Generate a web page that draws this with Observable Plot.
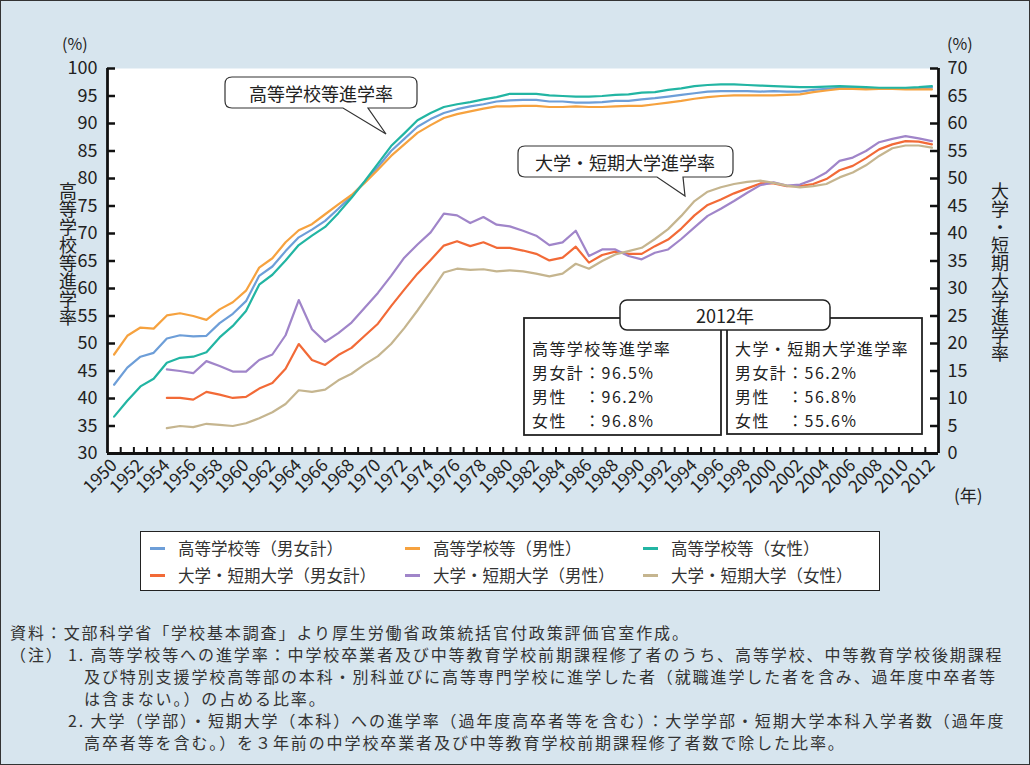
<!DOCTYPE html>
<html><head><meta charset="utf-8">
<script src="https://cdn.jsdelivr.net/npm/d3@7"></script>
<script src="https://cdn.jsdelivr.net/npm/@observablehq/plot@0.6"></script>
<style>
body{margin:0;background:#fff;}
#page{position:relative;width:1030px;height:765px;background:#d7e5ee;font-family:"Noto Sans CJK JP","Noto Sans",sans-serif;color:#222;overflow:hidden;}
#border{position:absolute;left:0;top:0;width:1030px;height:765px;box-sizing:border-box;border:1.5px solid #333;pointer-events:none;}
#chart{position:absolute;left:0;top:0;}
.abs{position:absolute;white-space:nowrap;}
.vt{position:absolute;writing-mode:vertical-rl;text-orientation:upright;font-size:18px;line-height:1;color:#222;}
#legend{position:absolute;left:140px;top:531px;width:740px;height:60px;box-sizing:border-box;background:#fff;border:1.5px solid #222;}
.li{position:absolute;font-size:16.5px;line-height:20px;color:#333;white-space:nowrap;}
.li span.m{display:inline-block;width:15px;height:2.5px;vertical-align:middle;margin-right:13px;position:relative;top:-2px;}
.note{position:absolute;font-size:16px;letter-spacing:1.9px;line-height:20px;color:#333;white-space:nowrap;}
</style></head>
<body><div id="page">
<div id="chart"></div>
<div class="abs" style="left:62px;top:31px;font-size:16px;">(%)</div>
<div class="abs" style="left:947px;top:31px;font-size:16px;">(%)</div>
<div class="abs" style="left:954px;top:482px;font-size:17px;">(年)</div>
<div class="vt" style="left:59px;top:182px;">高等学校等進学率</div>
<div class="vt" style="left:991px;top:182px;">大学・短期大学進学率</div>
<svg id="ann" width="1030" height="765" style="position:absolute;left:0;top:0;font-family:'Noto Sans CJK JP',sans-serif;">
  <path d="M232,77 H410 Q417,77 417,84 V101 Q417,108 410,108 H368 L386,134 L343,108 H232 Q225,108 225,101 V84 Q225,77 232,77 Z" fill="#fff" stroke="#333" stroke-width="1.2"/>
  <text x="321" y="93" text-anchor="middle" dominant-baseline="central" font-size="18" fill="#222">高等学校等進学率</text>
  <path d="M525,146 H726 Q733,146 733,153 V170 Q733,177 726,177 H683 L685,196 L657,177 H525 Q518,177 518,170 V153 Q518,146 525,146 Z" fill="#fff" stroke="#333" stroke-width="1.2"/>
  <text x="625" y="162" text-anchor="middle" dominant-baseline="central" font-size="18" fill="#222">大学・短期大学進学率</text>
  <rect x="524" y="318" width="197" height="117" fill="#fff" stroke="#222" stroke-width="1.8"/>
  <rect x="727" y="318" width="195" height="116" fill="#fff" stroke="#222" stroke-width="1.8"/>
  <rect x="620" y="300" width="210" height="30" rx="7" fill="#fff" stroke="#222" stroke-width="1.5"/>
  <text x="725" y="315" text-anchor="middle" dominant-baseline="central" font-size="18" fill="#222">2012年</text>
  <g font-size="16" letter-spacing="1.4" fill="#222" dominant-baseline="central">
    <text x="532" y="348">高等学校等進学率</text>
    <text x="532" y="372">男女計：96.5%</text>
    <text x="532" y="396">男性　：96.2%</text>
    <text x="532" y="420">女性　：96.8%</text>
    <text x="735" y="348">大学・短期大学進学率</text>
    <text x="735" y="372">男女計：56.2%</text>
    <text x="735" y="396">男性　：56.8%</text>
    <text x="735" y="420">女性　：55.6%</text>
  </g>
</svg>
<div id="legend"></div>
<div class="note" style="left:10px;top:622px;">資料：文部科学省「学校基本調査」より厚生労働省政策統括官付政策評価官室作成。</div>
<div class="note" style="left:10px;top:644px;">（注）</div>
<div class="note" style="left:68px;top:644px;">1. 高等学校等への進学率：中学校卒業者及び中等教育学校前期課程修了者のうち、高等学校、中等教育学校後期課程</div>
<div class="note" style="left:84px;top:666px;">及び特別支援学校高等部の本科・別科並びに高等専門学校に進学した者（就職進学した者を含み、過年度中卒者等</div>
<div class="note" style="left:84px;top:688px;">は含まない。）の占める比率。</div>
<div class="note" style="left:68px;top:710px;">2. 大学（学部）・短期大学（本科）への進学率（過年度高卒者等を含む）：大学学部・短期大学本科入学者数（過年度</div>
<div class="note" style="left:84px;top:732px;">高卒者等を含む。）を３年前の中学校卒業者及び中等教育学校前期課程修了者数で除した比率。</div>
<div id="border"></div>
</div>
<script>
// ---- data ----
const years = d3.range(1950, 2013);          // 1950..2012
const univYears = d3.range(1954, 2013);      // 1954..2012
const xTickYears = years.filter(y => y % 2 === 0);
const leftTicks = [30,35,40,45,50,55,60,65,70,75,80,85,90,95,100];
const rightTickLabels = [0,5,10,15,20,25,30,35,40,45,50,55,60,65,70];

const hsTotal = [42.5,45.6,47.6,48.3,50.9,51.5,51.3,51.4,53.7,55.4,57.7,62.3,64.0,66.8,69.3,70.7,72.3,74.5,76.8,79.4,82.1,85.0,87.2,89.4,90.8,91.9,92.6,93.1,93.5,94.0,94.2,94.3,94.3,94.0,94.0,93.8,93.8,93.9,94.1,94.1,94.4,94.6,94.9,95.2,95.5,95.8,95.9,95.9,95.9,95.8,95.9,95.8,95.8,96.1,96.3,96.5,96.5,96.4,96.4,96.3,96.3,96.4,96.5];
const hsMale = [48.0,51.4,52.9,52.7,55.1,55.5,55.0,54.3,56.2,57.5,59.6,63.8,65.5,68.4,70.6,71.7,73.5,75.3,77.0,79.2,81.6,84.1,86.2,88.3,89.7,91.0,91.7,92.2,92.7,93.1,93.1,93.2,93.2,93.0,93.0,93.1,93.0,93.0,93.1,93.2,93.2,93.5,93.8,94.1,94.5,94.8,95.0,95.1,95.1,95.1,95.1,95.2,95.3,95.7,96.0,96.3,96.3,96.2,96.3,96.3,96.2,96.2,96.2];
const hsFemale = [36.7,39.6,42.2,43.6,46.5,47.4,47.6,48.4,51.1,53.2,55.9,60.7,62.5,65.1,67.9,69.6,71.2,73.7,76.5,79.5,82.7,85.9,88.2,90.6,91.9,93.0,93.5,93.9,94.4,94.8,95.4,95.4,95.4,95.1,95.0,94.9,94.9,95.0,95.2,95.3,95.6,95.7,96.1,96.4,96.8,97.0,97.1,97.1,97.0,96.9,96.8,96.7,96.6,96.6,96.7,96.8,96.7,96.6,96.5,96.5,96.5,96.6,96.8];
const univTotal = [10.1,10.1,9.8,11.2,10.7,10.1,10.3,11.8,12.8,15.4,19.9,17.0,16.1,17.9,19.2,21.4,23.6,26.8,29.8,32.7,35.2,37.8,38.6,37.7,38.4,37.4,37.4,36.9,36.3,35.1,35.6,37.6,34.7,36.1,36.7,36.3,36.3,37.7,38.9,40.9,43.3,45.2,46.2,47.3,48.2,49.1,49.1,48.6,48.6,49.0,49.9,51.5,52.3,53.7,55.3,56.2,56.8,56.7,56.2];
const univMale = [15.3,15.0,14.6,16.8,15.9,14.9,14.9,17.0,18.0,21.5,27.9,22.6,20.3,21.9,23.8,26.5,29.2,32.3,35.6,38.0,40.2,43.6,43.3,41.9,43.0,41.6,41.3,40.5,39.6,37.9,38.4,40.5,35.9,37.1,37.1,35.9,35.3,36.5,37.1,39.0,41.1,43.2,44.5,45.9,47.4,48.8,49.3,48.7,48.9,49.8,51.1,53.2,53.8,55.0,56.6,57.2,57.7,57.3,56.8];
const univFemale = [4.6,5.0,4.8,5.4,5.2,5.0,5.5,6.4,7.5,9.0,11.5,11.2,11.6,13.3,14.5,16.2,17.7,19.9,22.8,26.0,29.4,32.9,33.6,33.4,33.5,33.1,33.3,33.1,32.7,32.2,32.7,34.5,33.6,35.0,36.2,36.8,37.4,39.0,40.8,43.2,45.9,47.6,48.4,49.0,49.4,49.6,49.2,48.7,48.4,48.6,49.0,50.2,51.1,52.4,54.1,55.5,56.0,56.0,55.6];

const seriesNames = ["高等学校等（男女計）","高等学校等（男性）","高等学校等（女性）","大学・短期大学（男女計）","大学・短期大学（男性）","大学・短期大学（女性）"];
const seriesColors = ["#6d9ed8","#f6a23f","#22b5a3","#f26a37","#a085c9","#c5b58f"];
const seriesValues = [hsTotal, hsMale, hsFemale, univTotal, univMale, univFemale];
const seriesYears = [years, years, years, univYears, univYears, univYears];
const rightAxisOffset = 30; // right axis 0..70 shares the left axis 30..100 span

// ---- table for Plot ----
const rows = [];
seriesValues.forEach((vals, s) => {
  const onRight = s >= 3;
  vals.forEach((v, i) => rows.push({
    year: seriesYears[s][i],
    value: onRight ? v + rightAxisOffset : v,
    name: seriesNames[s]
  }));
});

const W = 1030, H = 500;
const mL = 107, mR = 92, mT = 68, mB = 47;
const pw = W - mL - mR, ph = H - mT - mB;
const boundaries = years.slice(0, -1).map(y => y + 0.5);

const chart = Plot.plot({
  width: W, height: H,
  marginLeft: mL, marginRight: mR, marginTop: mT, marginBottom: mB,
  style: {background: "transparent", fontFamily: "'Noto Sans CJK JP', sans-serif", fontSize: "18px", color: "#222"},
  x: {domain: [1949.5, 2012.5]},
  y: {domain: [30, 100]},
  color: {domain: seriesNames, range: seriesColors},
  marks: [
    Plot.frame({fill: "white", stroke: null}),
    Plot.tickY(leftTicks, {y: d => d, stroke: "#111", strokeWidth: 2.5, insetRight: pw - 8}),
    Plot.tickY(leftTicks, {y: d => d, stroke: "#111", strokeWidth: 2.5, insetLeft: pw - 8}),
    Plot.tickX(boundaries, {x: d => d, stroke: "#111", strokeWidth: 2, insetTop: ph - 6}),
    Plot.line(rows, {x: "year", y: "value", z: "name", stroke: "name", strokeWidth: 2.2, curve: "linear"}),
    Plot.ruleX([1949.5, 2012.5], {stroke: "#111", strokeWidth: 2.8}),
    Plot.ruleY([30], {stroke: "#111", strokeWidth: 2.8}),
    Plot.axisY({anchor: "left", ticks: leftTicks, tickSize: 0, tickPadding: 10, label: null, fontSize: 18}),
    Plot.axisY({anchor: "right", ticks: leftTicks, tickSize: 0, tickPadding: 9, label: null, fontSize: 18,
      tickFormat: d => String(rightTickLabels[leftTicks.indexOf(d)])}),
    Plot.axisX({ticks: xTickYears, tickSize: 0, tickPadding: 9, tickRotate: -45, label: null, fontSize: 17.5,
      tickFormat: d => String(d)})
  ]
});
document.getElementById("chart").appendChild(chart);

// ---- legend ----
const legend = document.getElementById("legend");
const colX = [9, 264, 502];
const rowY = [6, 33];
seriesNames.forEach((n, i) => {
  const el = document.createElement("div");
  el.className = "li";
  el.style.left = colX[i % 3] + "px";
  el.style.top = rowY[Math.floor(i / 3)] + "px";
  el.innerHTML = `<span class="m" style="background:${seriesColors[i]}"></span>${n}`;
  legend.appendChild(el);
});
</script>
</body></html>
